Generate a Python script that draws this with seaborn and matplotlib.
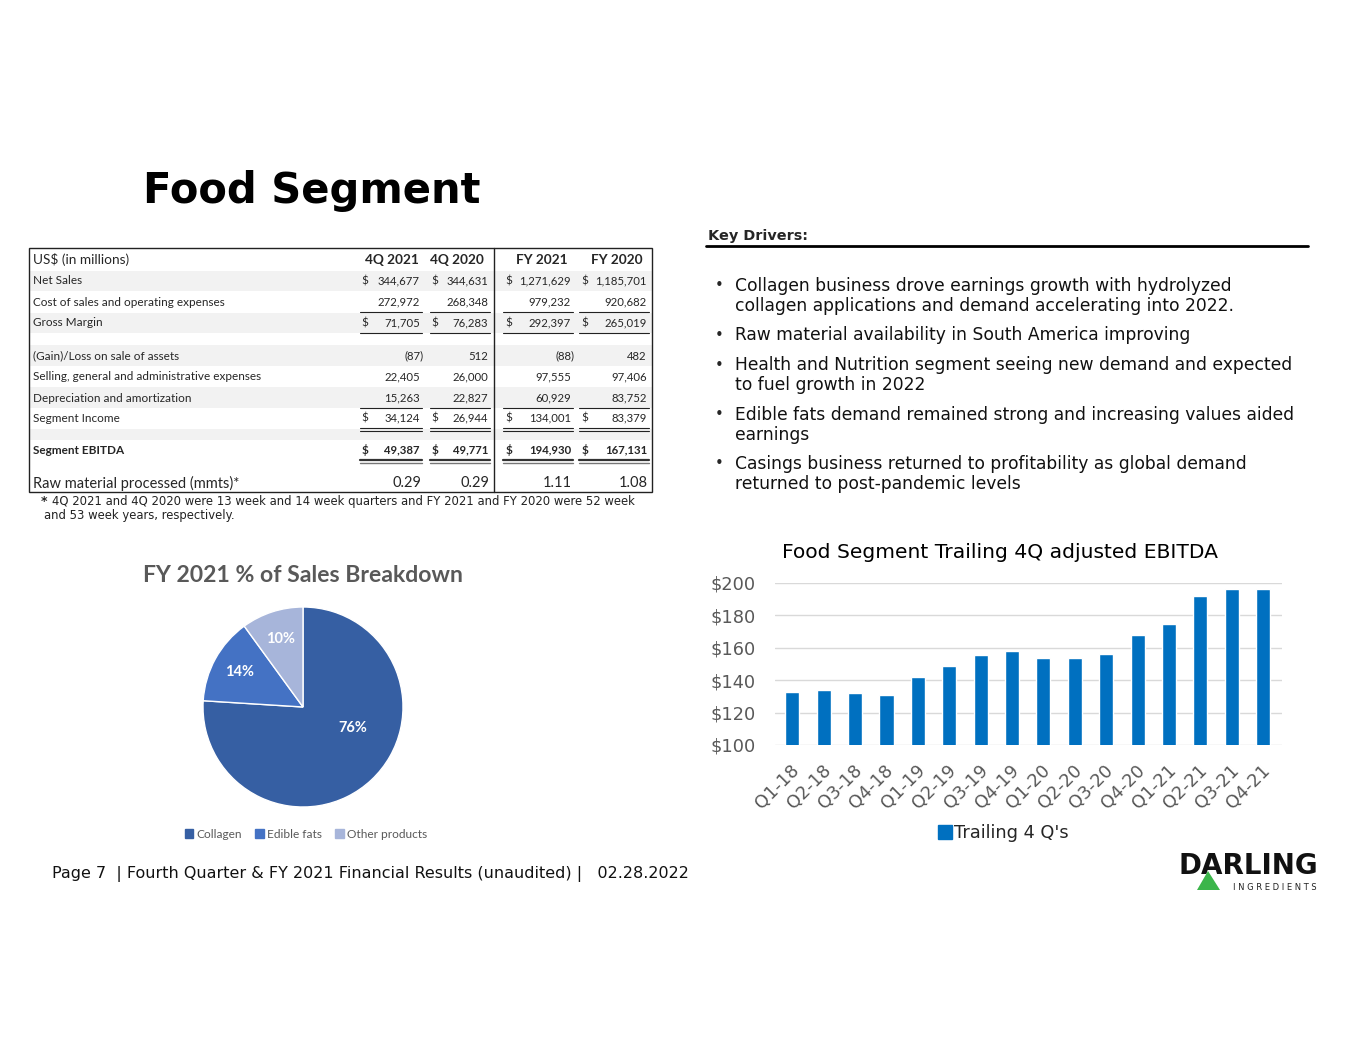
import numpy as np
import pandas as pd
import matplotlib
matplotlib.use("Agg")
import matplotlib.pyplot as plt
import matplotlib.patches as mpatches
from matplotlib.transforms import ScaledTranslation
import seaborn as sns

# ---- data ----
quarters = ["Q1-18", "Q2-18", "Q3-18", "Q4-18", "Q1-19", "Q2-19", "Q3-19", "Q4-19",
            "Q1-20", "Q2-20", "Q3-20", "Q4-20", "Q1-21", "Q2-21", "Q3-21", "Q4-21"]
trailing_ebitda = [133, 134, 132, 131, 142, 149, 155.5, 158,
                   154, 153.5, 156, 168, 175, 192, 196.5, 196]

pie_labels = ["Collagen", "Edible fats", "Other products"]
pie_shares = [76, 14, 10]

col_headers = ["4Q 2021", "4Q 2020", "FY 2021", "FY 2020"]
net_sales = [344677, 344631, 1271629, 1185701]
cost_of_sales = [272972, 268348, 979232, 920682]
gross_margin = [71705, 76283, 292397, 265019]
gain_loss = [-87, 512, -88, 482]
sga = [22405, 26000, 97555, 97406]
dep_amort = [15263, 22827, 60929, 83752]
segment_income = [34124, 26944, 134001, 83379]
segment_ebitda = [49387, 49771, 194930, 167131]
raw_material = [0.29, 0.29, 1.11, 1.08]

bullets = [
    ["Collagen business drove earnings growth with hydrolyzed",
     "collagen applications and demand accelerating into 2022."],
    ["Raw material availability in South America improving"],
    ["Health and Nutrition segment seeing new demand and expected",
     "to fuel growth in 2022"],
    ["Edible fats demand remained strong and increasing values aided",
     "earnings"],
    ["Casings business returned to profitability as global demand",
     "returned to post-pandemic levels"],
]

W, H = 1365, 1055
sns.set_theme(style="white")
plt.rcParams["font.family"] = ["DejaVu Sans"]

fig = plt.figure(figsize=(W / 100, H / 100), dpi=100)
fig.patch.set_facecolor("white")

# full-page canvas in pixel coordinates
cv = fig.add_axes([0, 0, 1, 1])
cv.set_xlim(0, W)
cv.set_ylim(H, 0)
cv.axis("off")

# ---- title ----
cv.text(143, 191, "Food Segment", fontsize=30, fontweight="bold", color="black",
        ha="left", va="center")

# ---- table ----
tf = "Lato"
top, bot, left, right, vdiv = 248, 492, 29, 652, 494
row_y = {"hdr": 260, "net": 281, "cost": 302, "gross": 323, "gain": 356,
         "sga": 377, "da": 398, "inc": 418, "ebitda": 450, "raw": 482}
for y0, y1 in [(271, 291), (313, 333), (345, 366), (387, 408), (429, 440)]:
    cv.add_patch(mpatches.Rectangle((left, y0), right - left, y1 - y0,
                                    facecolor="#F2F2F2", edgecolor="none", zorder=0))
cv.add_patch(mpatches.Rectangle((left, top), right - left, bot - top,
                                facecolor="none", edgecolor="#222222", lw=1.0, zorder=3))
cv.plot([vdiv, vdiv], [top, bot], color="#222222", lw=1.0, zorder=3)

cv.text(33, row_y["hdr"], "US$ (in millions)", family=tf, fontsize=9.8, va="center")
hdr_x = [392, 457, 542, 617]
for x, h in zip(hdr_x, col_headers):
    cv.text(x, row_y["hdr"], h, family=tf, fontsize=9.8, fontweight="bold",
            ha="center", va="center")

labels = [("net", "Net Sales"), ("cost", "Cost of sales and operating expenses"),
          ("gross", "Gross Margin"), ("gain", "(Gain)/Loss on sale of assets"),
          ("sga", "Selling, general and administrative expenses"),
          ("da", "Depreciation and amortization"), ("inc", "Segment Income")]
for key, lab in labels:
    cv.text(33, row_y[key], lab, family=tf, fontsize=8.5, va="center")
cv.text(33, row_y["ebitda"], "Segment EBITDA", family=tf, fontsize=8.5,
        fontweight="bold", va="center")
cv.text(33, row_y["raw"] + 1, "Raw material processed (mmts)*", family=tf,
        fontsize=10.5, va="center")

dollar_x = [365, 435, 509, 585]
val_x = [420, 488, 571, 647]
seg = [(360, 422), (430, 490), (503, 573), (579, 649)]


def put_row(key, vals, dollar=False, bold=False):
    for i, v in enumerate(vals):
        if v < 0:
            s, x = "({:,})".format(-v), val_x[i] + 4
        else:
            s, x = "{:,}".format(v), val_x[i]
        cv.text(x, row_y[key], s, family=tf, fontsize=8.2, ha="right", va="center",
                fontweight="bold" if bold else "normal")
        if dollar:
            cv.text(dollar_x[i], row_y[key], "$", family=tf, fontsize=8.5, ha="center",
                    va="center", fontweight="bold" if bold else "normal")


put_row("net", net_sales, dollar=True)
put_row("cost", cost_of_sales)
put_row("gross", gross_margin, dollar=True)
put_row("gain", gain_loss)
put_row("sga", sga)
put_row("da", dep_amort)
put_row("inc", segment_income, dollar=True)
put_row("ebitda", segment_ebitda, dollar=True, bold=True)
for i, v in enumerate(raw_material):
    cv.text(val_x[i] + 1, row_y["raw"] + 1, "{:.2f}".format(v), family=tf,
            fontsize=10.5, ha="right", va="center")

for x0, x1 in seg:
    for y in (312, 333, 408):
        cv.plot([x0, x1], [y, y], color="#222222", lw=0.8)
    for y in (428, 431):
        cv.plot([x0, x1], [y, y], color="#222222", lw=0.8)
    cv.plot([x0, x1], [460, 460], color="#333333", lw=1.6)
    cv.plot([x0, x1], [462.5, 462.5], color="#777777", lw=1.0)

cv.text(41, 502, "*", fontsize=9, fontweight="bold", va="center")
cv.text(52, 502, "4Q 2021 and 4Q 2020 were 13 week and 14 week quarters and FY 2021 and FY 2020 were 52 week",
        fontsize=8.4, va="center", color="#222222")
cv.text(44, 516, "and 53 week years, respectively.", fontsize=8.4, va="center",
        color="#222222")

# ---- key drivers ----
cv.text(708, 236, "Key Drivers:", fontsize=10.4, fontweight="bold", va="center")
cv.plot([706, 1308], [246, 246], color="black", lw=2.0)
y = 286
for b in bullets:
    cv.text(719, y, "\u2022", fontsize=10.5, va="center", ha="center")
    for line in b:
        cv.text(735, y, line, fontsize=12.3, va="center", color="#111111")
        y += 20
    y += 9.5

# ---- pie ----
cx, cy, r = 303, 707, 100
pax = fig.add_axes([(cx - r) / W, 1 - (cy + r) / H, 2 * r / W, 2 * r / H])
pie_colors = ["#365FA3", "#4472C4", "#A7B5DA"]
wedges, _, autot = pax.pie(pie_shares, colors=pie_colors, startangle=90,
                           counterclock=False, autopct="%d%%", pctdistance=0.72,
                           textprops=dict(color="white", fontweight="bold",
                                          fontsize=10.5, family=tf))
autot[0].set_position((0.5, -0.21))
pax.set_xlim(-1, 1)
pax.set_ylim(-1, 1)
pax.set_aspect("equal")
cv.text(cx, 576, "FY 2021 % of Sales Breakdown", family=tf, fontsize=16.6,
        fontweight="bold", color="#595959", ha="center", va="center")
pie_handles = [mpatches.Patch(color=c, label=l) for c, l in zip(pie_colors, pie_labels)]
fig.legend(handles=pie_handles, loc="center", bbox_to_anchor=(306 / W, 1 - 834 / H),
           ncol=3, frameon=False, handlelength=0.7, handleheight=0.7,
           handletextpad=0.3, columnspacing=1.1, prop=dict(family=tf, size=8.6),
           labelcolor="#595959")

# ---- bar chart ----
bx0, bx1, by0, by1 = 775, 1282, 583, 745
bax = fig.add_axes([bx0 / W, 1 - by1 / H, (bx1 - bx0) / W, (by1 - by0) / H])
bar_df = pd.DataFrame({"quarter": quarters, "ebitda": trailing_ebitda})
sns.barplot(data=bar_df, x="quarter", y="ebitda", color="#0070C0", saturation=1,
            width=0.45, ax=bax, zorder=3)
bax.set_ylim(100, 200)
bax.set_xlim(-0.55, len(quarters) - 0.4)
bax.set_yticks([100, 120, 140, 160, 180, 200])
bax.set_yticklabels(["${}".format(v) for v in [100, 120, 140, 160, 180, 200]])
bax.yaxis.grid(True, color="#D9D9D9", lw=1.0, zorder=0)
bax.set_axisbelow(True)
bax.set_xlabel("")
bax.set_ylabel("")
for s in bax.spines.values():
    s.set_visible(False)
bax.patch.set_alpha(0)
bax.tick_params(axis="y", labelsize=12.8, labelcolor="#595959", length=0, pad=14)
bax.tick_params(axis="x", labelsize=12.8, labelcolor="#595959", length=0, pad=12)
off = ScaledTranslation(-2 / 100, 0, fig.dpi_scale_trans)
for lab in bax.get_xticklabels():
    lab.set_rotation(45)
    lab.set_ha("right")
    lab.set_va("top")
    lab.set_rotation_mode("anchor")
    lab.set_transform(lab.get_transform() + off)
cv.text(1000, 552, "Food Segment Trailing 4Q adjusted EBITDA", fontsize=14.6,
        ha="center", va="center", color="black")
fig.legend(handles=[mpatches.Patch(color="#0070C0", label="Trailing 4 Q's")],
           loc="center", bbox_to_anchor=(1003 / W, 1 - 833 / H), frameon=False,
           fontsize=12.8, handlelength=0.8, handleheight=0.8, handletextpad=0.1)

# ---- footer ----
cv.text(52, 874, "Page 7  | Fourth Quarter & FY 2021 Financial Results (unaudited) |   02.28.2022",
        fontsize=11.5, va="center", color="#111111")

# logo
cv.text(1248, 866, "DARLING", fontsize=20, fontweight="bold", ha="center",
        va="center", color="#111111")
cv.add_patch(mpatches.Polygon([[1208, 871], [1197, 890], [1220, 890]], closed=True,
                              facecolor="#3BB54A", edgecolor="none", zorder=4))
cv.text(1275, 887, "I N G R E D I E N T S", fontsize=6, ha="center", va="center",
        color="#222222")

fig.savefig("out.png", dpi=100)
